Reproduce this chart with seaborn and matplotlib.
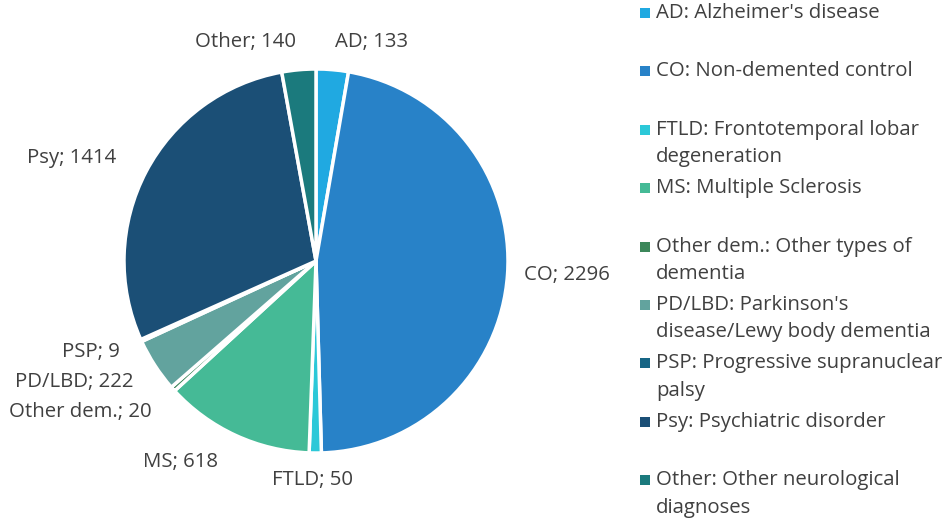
import matplotlib
matplotlib.use("Agg")
import matplotlib.pyplot as plt
import seaborn as sns

# data
codes = ["AD", "CO", "FTLD", "MS", "Other dem.", "PD/LBD", "PSP", "Psy", "Other"]
counts = [133, 2296, 50, 618, 20, 222, 9, 1414, 140]
legend_labels = [
    "AD: Alzheimer's disease",
    "CO: Non-demented control",
    "FTLD: Frontotemporal lobar\ndegeneration",
    "MS: Multiple Sclerosis",
    "Other dem.: Other types of\ndementia",
    "PD/LBD: Parkinson's\ndisease/Lewy body dementia",
    "PSP: Progressive supranuclear\npalsy",
    "Psy: Psychiatric disorder",
    "Other: Other neurological\ndiagnoses",
]
colors = ["#20A9E1", "#2882C8", "#2CC8D8", "#45BA96", "#3C875A",
          "#62A39E", "#176585", "#1B4F76", "#1B7A7D"]

# label anchor points (pixels in a 945x524 canvas)
label_pos = [(372, 42), (567, 275), (313, 480), (181, 462), (80, 412),
             (74, 382), (91, 352), (72, 158), (246, 42)]

sns.set_theme(style="white")
plt.rcParams["font.family"] = ["Open Sans", "DejaVu Sans"]
txt_color = "#404040"
fs = 14.7

W, H = 945, 524
cx, cy, R = 316, 261, 192


def px(x, y):
    return (x - cx) / R, (cy - y) / R


fig = plt.figure(figsize=(W / 100, H / 100), dpi=100)
ax = fig.add_axes([0, 0, 1, 1])
ax.pie(counts, colors=sns.color_palette(colors), startangle=90, counterclock=False,
       wedgeprops=dict(edgecolor="white", linewidth=2.5))
ax.set_xlim(-cx / R, (W - cx) / R)
ax.set_ylim(-(H - cy) / R, cy / R)
ax.set_aspect("auto")
ax.axis("off")

for code, n, (x, y) in zip(codes, counts, label_pos):
    ax.text(*px(x, y), "{}; {}".format(code, n), ha="center", va="center",
            fontsize=fs, color=txt_color)

# legend, Excel style: one slot per entry, wrapped lines run into the gap
step, line_h = 58.4, 27.5
for i, (lab, col) in enumerate(zip(legend_labels, colors)):
    y0 = 13 + i * step
    ax.scatter(*px(645, y0), marker="s", s=62, color=col, linewidths=0)
    for j, line in enumerate(lab.split("\n")):
        ax.text(*px(656, y0 + j * line_h), line, ha="left", va="center",
                fontsize=fs, color=txt_color)

fig.savefig("out.png", dpi=100)
